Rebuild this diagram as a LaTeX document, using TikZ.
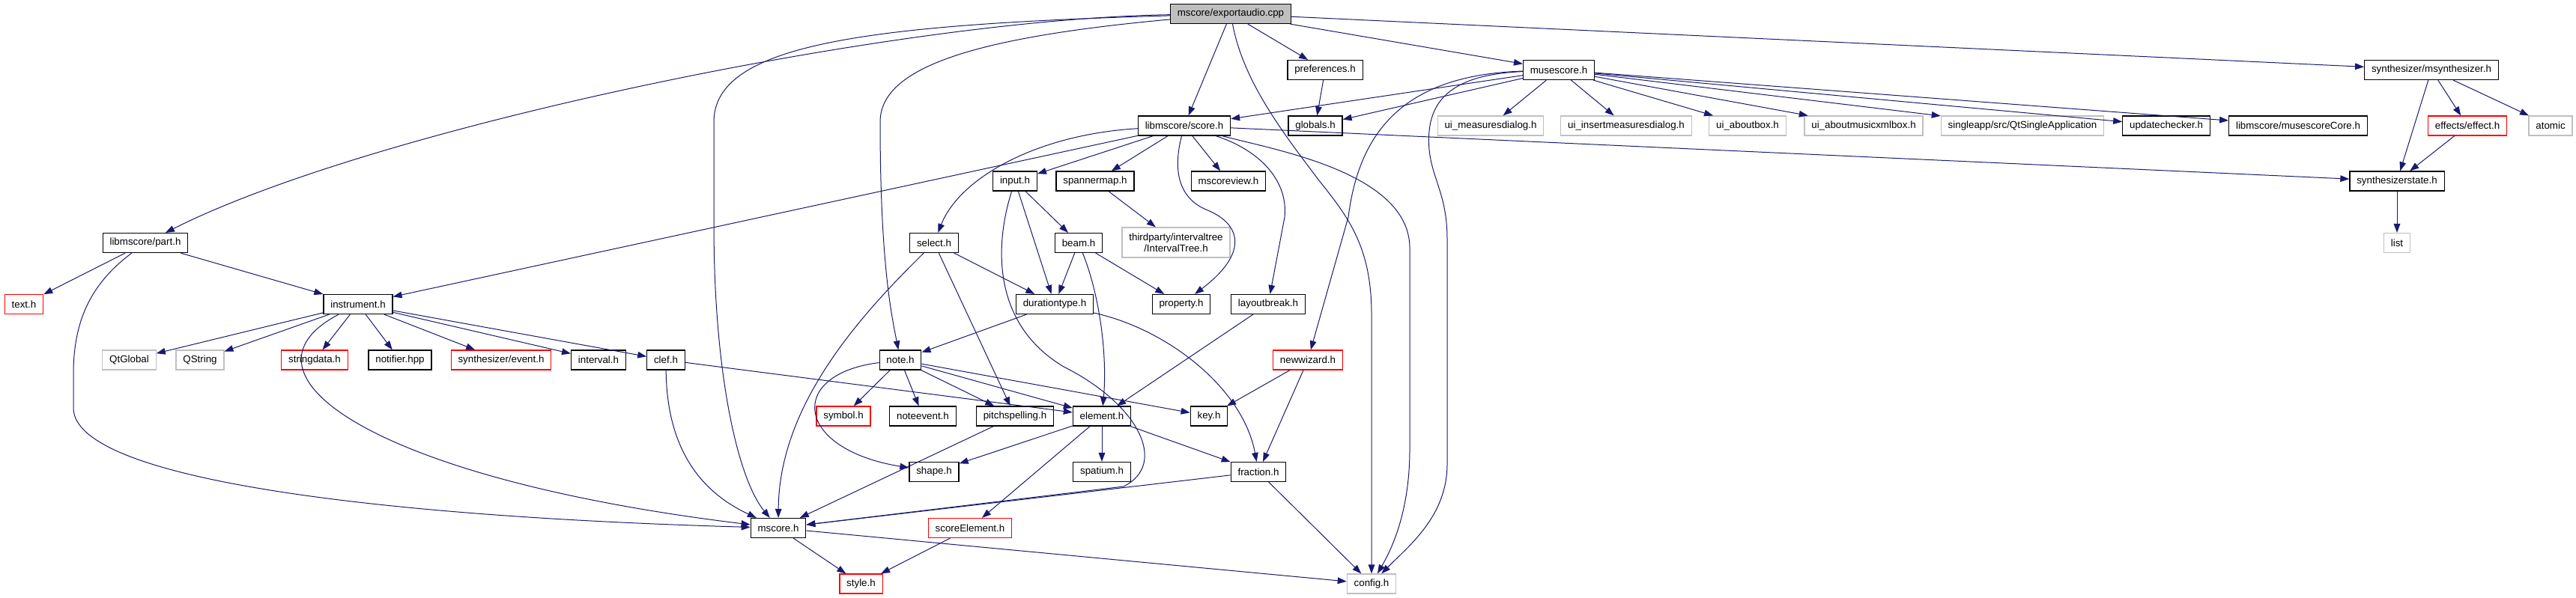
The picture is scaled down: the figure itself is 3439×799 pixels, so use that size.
\documentclass[tikz,border=0pt]{standalone}
\usepackage{fontspec}
\setmainfont{Liberation Sans}
\usetikzlibrary{arrows.meta}
\definecolor{edgeblue}{RGB}{25,25,112}
\definecolor{greyline}{RGB}{191,191,191}
\tikzset{
  filebox/.style={draw=black, line width=0.9pt, fill=white, rectangle, minimum height=19.5pt,
    inner xsep=7pt, inner ysep=1pt, font=\fontsize{10}{11}\selectfont},
  extbox/.style={filebox, draw=greyline},
  redbox/.style={filebox, draw=red},
  rootbox/.style={filebox, fill=greyline},
  dep/.style={draw=edgeblue, line width=0.75pt, -{Triangle[length=9pt, width=6.5pt]}},
}

\begin{document}
\begin{tikzpicture}[x=0.75pt, y=-0.75pt]
  \useasboundingbox (0,0) rectangle (3439,799);

  \node[rootbox] (exportaudio) at (1643,18.5) {mscore/exportaudio.cpp};

  \node[filebox] (preferences) at (1769,93.5) {preferences.h};
  \node[filebox] (musescore) at (2081,93.5) {musescore.h};
  \node[filebox] (msynth) at (3246,93.5) {synthesizer/msynthesizer.h};

  \node[filebox] (score) at (1581,168) {libmscore/score.h};
  \node[filebox] (globals) at (1756,168) {globals.h};
  \node[extbox] (uimeasure) at (1990,168) {ui\_measuresdialog.h};
  \node[extbox] (uiinsert) at (2171,168) {ui\_insertmeasuresdialog.h};
  \node[extbox] (uiabout) at (2333,168) {ui\_aboutbox.h};
  \node[extbox] (uixml) at (2488,168) {ui\_aboutmusicxmlbox.h};
  \node[extbox] (singleapp) at (2700,168) {singleapp/src/QtSingleApplication};
  \node[filebox] (updatechecker) at (2892,168) {updatechecker.h};
  \node[filebox] (mscorecore) at (3068,168) {libmscore/musescoreCore.h};
  \node[redbox] (effect) at (3294,168) {effects/effect.h};
  \node[extbox] (atomic) at (3405,168) {atomic};

  \node[filebox] (input) at (1355,242) {input.h};
  \node[filebox] (spannermap) at (1462,242) {spannermap.h};
  \node[filebox] (mscoreview) at (1640,242) {mscoreview.h};
  \node[filebox] (synthstate) at (3200,242) {synthesizerstate.h};

  \node[filebox] (part) at (194,324.5) {libmscore/part.h};
  \node[filebox] (selecth) at (1247,324.5) {select.h};
  \node[filebox] (beam) at (1440,324.5) {beam.h};
  \node[extbox, align=center, minimum height=30pt] (ivtree) at (1570,324) {thirdparty/intervaltree\\/IntervalTree.h};
  \node[extbox] (listh) at (3200,324.5) {list};

  \node[redbox] (texth) at (32,406.5) {text.h};
  \node[filebox] (instrument) at (478,406.5) {instrument.h};
  \node[filebox] (durationtype) at (1408,406.5) {durationtype.h};
  \node[filebox] (property) at (1577,406.5) {property.h};
  \node[filebox] (layoutbreak) at (1693,406.5) {layoutbreak.h};

  \node[extbox] (qtglobal) at (172.5,481) {QtGlobal};
  \node[extbox] (qstring) at (267,481) {QString};
  \node[redbox] (stringdata) at (420,481) {stringdata.h};
  \node[filebox] (notifier) at (534,481) {notifier.hpp};
  \node[redbox] (event) at (669,481) {synthesizer/event.h};
  \node[filebox] (interval) at (799,481) {interval.h};
  \node[filebox] (clef) at (889,481) {clef.h};
  \node[filebox] (note) at (1202,481) {note.h};
  \node[redbox] (newwizard) at (1746,481) {newwizard.h};

  \node[redbox] (symbol) at (1126,556) {symbol.h};
  \node[filebox] (noteevent) at (1232,556) {noteevent.h};
  \node[filebox] (pitchspelling) at (1355,556) {pitchspelling.h};
  \node[filebox] (element) at (1471,556) {element.h};
  \node[filebox] (keyh) at (1614,556) {key.h};

  \node[filebox] (shape) at (1247,630.5) {shape.h};
  \node[filebox] (spatium) at (1471,630.5) {spatium.h};
  \node[filebox] (fraction) at (1680,630.5) {fraction.h};

  \node[filebox] (mscore) at (1039,705.5) {mscore.h};
  \node[redbox] (scoreelement) at (1295,705.5) {scoreElement.h};

  \node[redbox] (style) at (1149.5,780) {style.h};
  \node[extbox] (config) at (1831,780) {config.h};

  \foreach \a/\b in {exportaudio/score, exportaudio/preferences, exportaudio/musescore, exportaudio/msynth,
      preferences/globals, musescore/score, musescore/globals, musescore/uimeasure, musescore/uiinsert,
      musescore/uiabout, musescore/uixml, musescore/singleapp, musescore/updatechecker, musescore/mscorecore,
      msynth/synthstate, msynth/effect, msynth/atomic, effect/synthstate, synthstate/listh,
      score/instrument, score/input, score/spannermap, score/mscoreview, score/synthstate,
      spannermap/ivtree, input/beam, input/durationtype, beam/durationtype, beam/property,
      selecth/durationtype, selecth/pitchspelling, durationtype/note, layoutbreak/element,
      newwizard/keyh, newwizard/fraction, part/texth, part/instrument,
      instrument/qtglobal, instrument/qstring, instrument/stringdata, instrument/notifier,
      instrument/event, instrument/interval, instrument/clef, clef/element,
      note/symbol, note/noteevent, note/pitchspelling, note/element, note/keyh,
      pitchspelling/mscore, element/shape, element/spatium, element/fraction, element/scoreelement,
      fraction/mscore, fraction/config, mscore/style, mscore/config, scoreelement/style}
    \draw[dep] (\a) -- (\b);

  \draw[dep] (exportaudio) .. controls (1200,25) and (500,170) .. (part);
  \draw[dep] (exportaudio) .. controls (1150,33) and (953,60) .. (953,163)
    -- (953,300) .. controls (953,500) and (985,640) .. (mscore);
  \draw[dep] (exportaudio) .. controls (1300,50) and (1175,90) .. (1175,163)
    .. controls (1175,350) and (1190,420) .. (note);
  \draw[dep] (exportaudio) .. controls (1660,110) and (1715,180) .. (1760,240)
    .. controls (1800,290) and (1831,330) .. (1831,420) -- (config);
  \draw[dep] (score) .. controls (1700,200) and (1880,230) .. (1882,330)
    -- (1882,600) .. controls (1882,680) and (1860,730) .. (config);
  \draw[dep] (musescore) .. controls (1930,100) and (1903,140) .. (1908,200)
    .. controls (1912,240) and (1932,260) .. (1932,320)
    -- (1932,620) .. controls (1932,690) and (1880,730) .. (config);
  \draw[dep] (musescore) .. controls (1880,100) and (1815,170) .. (1800,290) -- (newwizard);
  \draw[dep] (score) .. controls (1380,180) and (1280,240) .. (selecth);
  \draw[dep] (score) .. controls (1565,230) and (1575,265) .. (1610,280)
    .. controls (1660,300) and (1665,340) .. (property);
  \draw[dep] (score) .. controls (1680,200) and (1720,240) .. (1715,290) -- (layoutbreak);
  \draw[dep] (input) .. controls (1330,320) and (1320,430) .. (1420,490)
    .. controls (1520,540) and (1560,620) .. (1500,650) -- (mscore);
  \draw[dep] (beam) .. controls (1470,400) and (1478,480) .. (element);
  \draw[dep] (selecth) .. controls (1150,420) and (1040,540) .. (mscore);
  \draw[dep] (durationtype) .. controls (1560,440) and (1660,520) .. (fraction);
  \draw[dep] (note) .. controls (1050,500) and (1060,600) .. (shape);
  \draw[dep] (clef) .. controls (890,580) and (920,650) .. (mscore);
  \draw[dep] (instrument) .. controls (300,500) and (500,640) .. (mscore);
  \draw[dep] (part) .. controls (120,380) and (98,430) .. (98,500)
    -- (98,545) .. controls (98,640) and (500,690) .. (mscore);
\end{tikzpicture}
\end{document}
